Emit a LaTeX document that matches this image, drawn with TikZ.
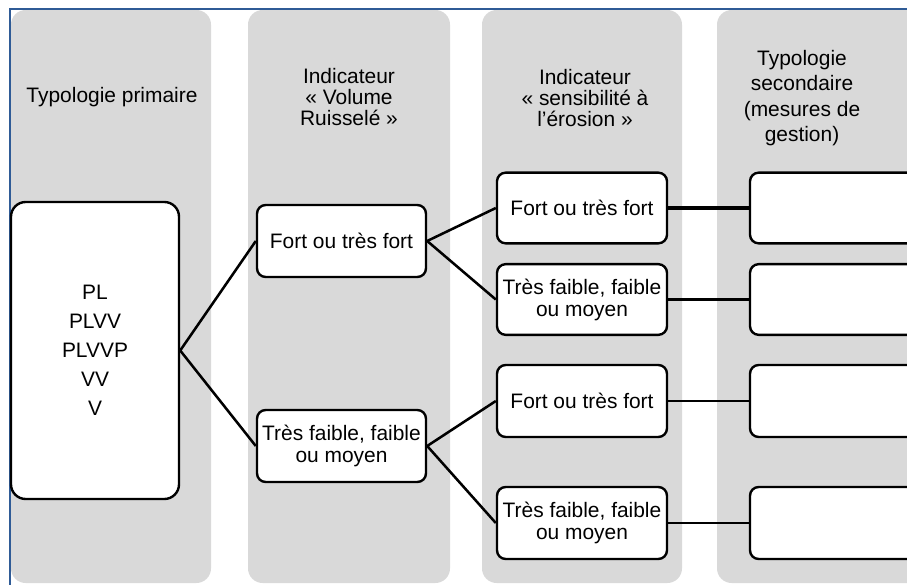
\documentclass[tikz,border=0pt]{standalone}
\usepackage{fontspec}
\setmainfont{Liberation Sans}
\definecolor{colgray}{HTML}{D9D9D9}
\definecolor{frameblue}{HTML}{2F5B96}
\tikzset{
  colbg/.style={fill=colgray, rounded corners=11pt},
  box/.style={draw=black, line width=1.8pt, fill=white, rounded corners=6.5pt, align=center, inner sep=2pt,
    font=\fontsize{15.7}{16.5}\selectfont},
  titletext/.style={align=center, inner sep=0pt, font=\fontsize{15.7}{16}\selectfont},
  link/.style={draw=black, line width=1.9pt},
}
\begin{document}
\begin{tikzpicture}[x=0.75pt,y=-0.75pt]
\clip (0,0) rectangle (907,585);
\fill[white] (0,0) rectangle (907,585);
% columns
\fill[colbg] (11,10) rectangle (211,583);
\fill[colbg] (248,10) rectangle (450,583);
\fill[colbg] (482,10) rectangle (682,583);
\fill[colbg] (717,10) rectangle (960,583);
% frame
\draw[frameblue, line width=0.8pt] (10,585) -- (10,9) -- (907,9);
% titles
\node[titletext] (t1) at (112,97) {Typologie primaire};
\node[titletext] (t2) at (349,97) {Indicateur\\«~Volume\\Ruisselé~»};
\node[titletext] (t3) at (585,98) {Indicateur\\«~sensibilité à\\l’érosion~»};
\node[titletext, font=\fontsize{15.7}{19}\selectfont] (t4) at (802,98) {Typologie\\secondaire\\(mesures de\\gestion)};
% boxes
\node[box, rounded corners=11pt, minimum width=126pt, minimum height=222.75pt, font=\fontsize{15.7}{21.75}\selectfont] (prim) at (95,350.5) {PL\\PLVV\\PLVVP\\VV\\V};
\node[box, minimum width=126.75pt, minimum height=54pt] (v1) at (341.5,241) {Fort ou très fort};
\node[box, minimum width=126.75pt, minimum height=54pt] (v2) at (341.5,446) {Très faible, faible\\ou moyen};
\node[box, minimum width=127.5pt, minimum height=53pt] (e1) at (582,208) {Fort ou très fort};
\node[box, minimum width=127.5pt, minimum height=53pt] (e2) at (582,299.5) {Très faible, faible\\ou moyen};
\node[box, minimum width=127.5pt, minimum height=54pt] (e3) at (582,401) {Fort ou très fort};
\node[box, minimum width=127.5pt, minimum height=54pt] (e4) at (582,523) {Très faible, faible\\ou moyen};
\node[box, minimum width=135pt, minimum height=53pt] (s1) at (840,208) {};
\node[box, minimum width=135pt, minimum height=53pt] (s2) at (840,299.5) {};
\node[box, minimum width=135pt, minimum height=54pt] (s3) at (840,401) {};
\node[box, minimum width=135pt, minimum height=54pt] (s4) at (840,523) {};
% connectors
\draw[link] (prim.east) -- (v1.west);
\draw[link] (prim.east) -- (v2.west);
\draw[link] (v1.east) -- (e1.west);
\draw[link] (v1.east) -- (e2.west);
\draw[link] (v2.east) -- (e3.west);
\draw[link] (v2.east) -- (e4.west);
\draw[link, line width=2.5pt] (e1.east) -- (s1.west);
\draw[link] (e2.east) -- (s2.west);
\draw[link] (e3.east) -- (s3.west);
\draw[link] (e4.east) -- (s4.west);
\end{tikzpicture}
\end{document}
